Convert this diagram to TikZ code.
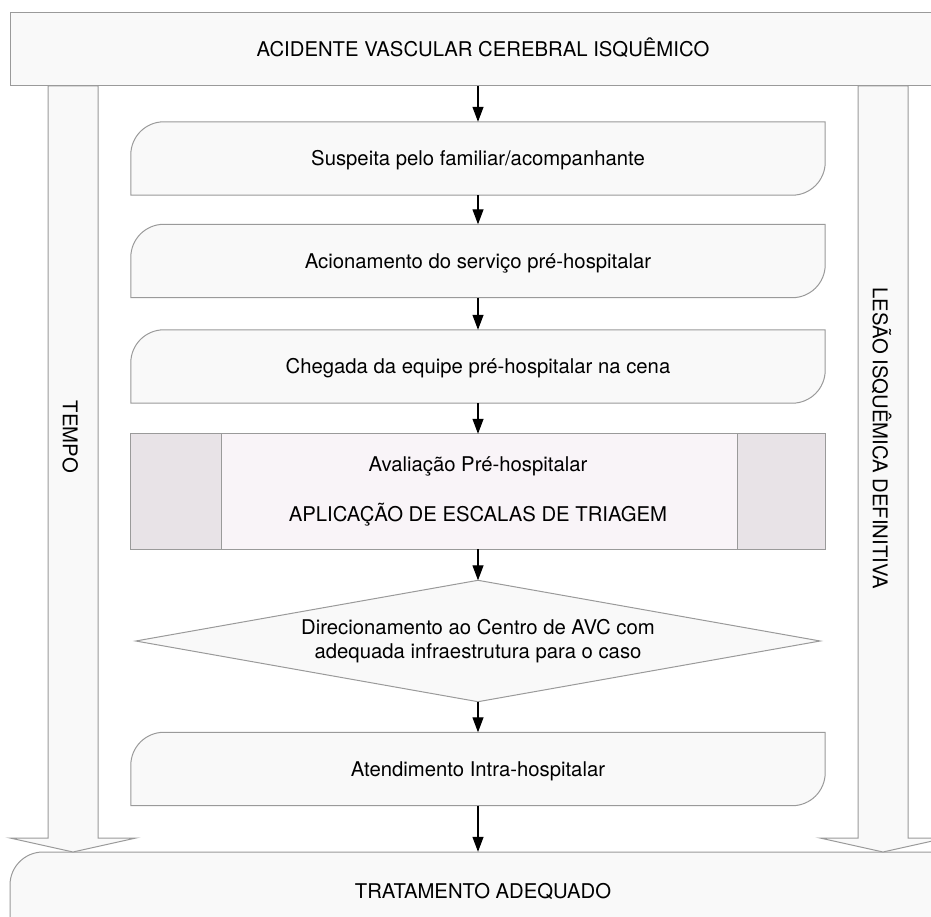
\documentclass[tikz,border=0pt]{standalone}
\usepackage{fontspec}
\setmainfont{TeX Gyre Heros}
\usetikzlibrary{arrows.meta}
\pgfdeclarelayer{bg}
\pgfsetlayers{bg,main}
\definecolor{boxfill}{HTML}{F9F9F9}
\definecolor{boxline}{HTML}{9A9A9A}
\definecolor{avalmid}{HTML}{F9F4F8}
\definecolor{avalside}{HTML}{E8E3E7}
\tikzset{
  lbl/.style={font=\fontsize{20.3}{24.5}\selectfont, text height=14.5pt, text depth=0pt, inner sep=0pt},
  mlbl/.style={font=\fontsize{20.3}{24.5}\selectfont, inner sep=0pt, align=center},
  stepbox/.style={lbl, minimum width=694pt, minimum height=73pt},
  outline/.style={draw=boxline, fill=boxfill, line width=1pt},
  flow/.style={-{Triangle[length=15pt,width=11pt]}, line width=1.2pt, black},
}
\newcommand{\stepshape}[1]{%
  \draw[outline] (#1.south west) -- ([yshift=-33pt]#1.north west)
    arc[start angle=180,end angle=90,radius=33pt] -- (#1.north east)
    -- ([yshift=33pt]#1.south east)
    arc[start angle=0,end angle=-90,radius=33pt] -- cycle;}
\begin{document}
\begin{tikzpicture}[x=1pt,y=-1pt]
\useasboundingbox (0,0) rectangle (931,917);
\clip (0,0) rectangle (931,917);

% nodes
\node[lbl, outline, minimum width=946pt, minimum height=73pt] (top) at (483,49.5) {ACIDENTE VASCULAR CEREBRAL ISQUÊMICO};
\node[stepbox] (s1) at (478,158.5) {Suspeita pelo familiar/acompanhante};
\node[stepbox] (s2) at (478,261) {Acionamento do serviço pré-hospitalar};
\node[stepbox] (s3) at (478,366.5) {Chegada da equipe pré-hospitalar na cena};
\node[mlbl, minimum width=694pt, minimum height=115pt] (aval) at (478,491.5)
  {Avaliação Pré-hospitalar\\[26pt]APLICAÇÃO DE ESCALAS DE TRIAGEM};
\node[mlbl, minimum width=684pt, minimum height=121pt] (dia) at (478,641)
  {Direcionamento ao Centro de AVC com\\adequada infraestrutura para o caso};
\node[stepbox] (s7) at (478,769) {Atendimento Intra-hospitalar};
\node[lbl, minimum width=946pt, minimum height=78pt] (bot) at (483,891) {TRATAMENTO ADEQUADO};
\node[lbl, rotate=-90] (tempo) at (70,437) {TEMPO};
\node[lbl, rotate=-90] (lesao) at (880,438) {LESÃO ISQUÊMICA DEFINITIVA};

% connectors
\draw[flow] (s1.north |- top.south) -- (s1.north);
\draw[flow] (s1.south) -- (s2.north);
\draw[flow] (s2.south) -- (s3.north);
\draw[flow] (s3.south) -- (aval.north);
\draw[flow] (aval.south) -- (dia.north);
\draw[flow] (dia.south) -- (s7.north);
\draw[flow] (s7.south) -- (s7.south |- bot.north);

\begin{pgfonlayer}{bg}
\begin{scope}
\clip (0,0) rectangle (931,917);
% bottom box
\draw[outline] (10,1000) -- (10,885) arc[start angle=180,end angle=90,radius=33pt] -- (1000,852) -- (1000,1000) -- cycle;
% big arrows
\draw[outline] (48,86) -- (48,838) -- (10,838) -- (73,852) -- (136,838) -- (98,838) -- (98,86) -- cycle;
\draw[outline] (858,86) -- (858,838) -- (820,838) -- (883,852) -- (946,838) -- (908,838) -- (908,86) -- cycle;
% step shapes
\stepshape{s1}
\stepshape{s2}
\stepshape{s3}
\stepshape{s7}
% evaluation box
\draw[draw=boxline, fill=avalmid, line width=1pt] (aval.north west) rectangle (aval.south east);
\draw[draw=boxline, fill=avalside, line width=1pt] (aval.north west) rectangle ([xshift=91pt]aval.south west);
\draw[draw=boxline, fill=avalside, line width=1pt] ([xshift=-88pt]aval.north east) rectangle (aval.south east);
% decision
\draw[outline] (dia.west) -- (dia.north) -- (dia.east) -- (dia.south) -- cycle;
\end{scope}
\end{pgfonlayer}
\end{tikzpicture}
\end{document}
